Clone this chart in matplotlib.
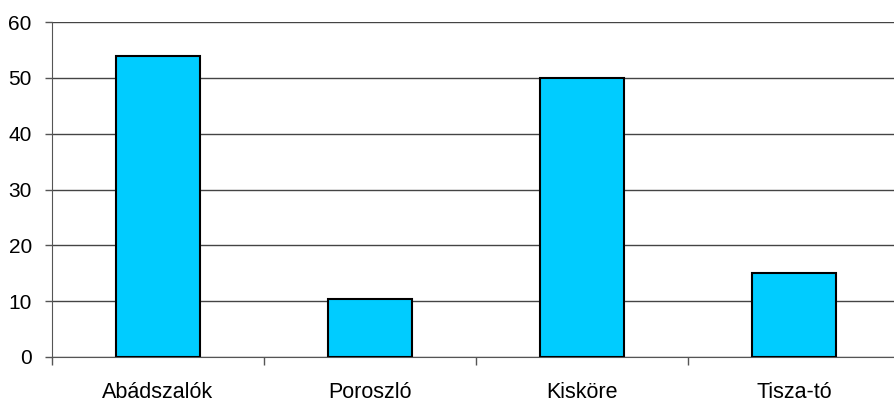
import matplotlib.pyplot as plt
import numpy as np
from matplotlib.ticker import FixedLocator

plt.rcParams['font.family'] = ['Liberation Sans', 'DejaVu Sans']

# data
helyek = ['Abádszalók', 'Poroszló', 'Kisköre', 'Tisza-tó']
ertekek = [54, 10.3, 50, 15.1]
y_ticks = [0, 10, 20, 30, 40, 50, 60]

fig = plt.figure(figsize=(8.94, 4.05), dpi=100)
ax = fig.add_axes([52/894, 48/405, 1 - 52/894, 335/405])

x = np.arange(len(helyek))
ax.bar(x, ertekek, width=0.40, color='#00CCFF', edgecolor='black', linewidth=1.5, zorder=3)

ax.set_ylim(0, 60)
ax.set_yticks(y_ticks)
ax.set_xlim(-0.5, 3.472)
ax.set_xticks(x)
ax.set_xticklabels(helyek)
ax.xaxis.set_minor_locator(FixedLocator(np.arange(-0.5, 4, 1)))

ax.yaxis.grid(True, color='#444444', linewidth=1, zorder=0)
for s in ['top', 'right']:
    ax.spines[s].set_visible(False)
ax.spines['left'].set_color('#555555')
ax.spines['bottom'].set_color('#555555')

ax.tick_params(axis='y', length=5, width=1, color='#555555', labelsize=15, pad=9.5)
ax.tick_params(axis='x', which='major', length=0, labelsize=15.5, pad=18)
ax.tick_params(axis='x', which='minor', length=6, width=1, color='#555555')

fig.savefig('out.png', dpi=100)
